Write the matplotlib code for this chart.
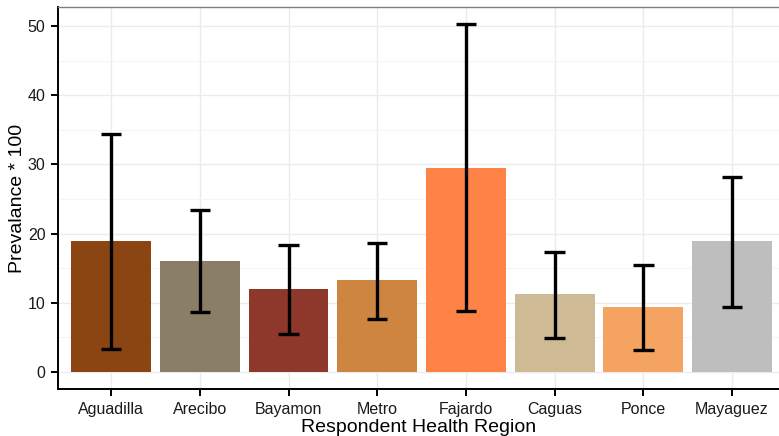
import numpy as np
import matplotlib
matplotlib.use("Agg")
import matplotlib.pyplot as plt
from matplotlib.ticker import MultipleLocator

plt.rcParams["font.family"] = ["Liberation Sans", "DejaVu Sans"]

# Data
regions = ["Aguadilla", "Arecibo", "Bayamon", "Metro", "Fajardo", "Caguas", "Ponce", "Mayaguez"]
prevalence = [18.9, 16.1, 12.0, 13.3, 29.5, 11.2, 9.4, 18.9]
ci_low = [3.3, 8.7, 5.5, 7.6, 8.8, 4.9, 3.2, 9.4]
ci_high = [34.4, 23.4, 18.3, 18.7, 50.3, 17.4, 15.4, 28.2]
colors = ["#8B4513", "#8B7E66", "#8E372B", "#CD853F", "#FF8247", "#CEBB96", "#F4A460", "#BEBEBE"]

fig = plt.figure(figsize=(7.79, 4.36), dpi=100)
ax = fig.add_axes([58 / 779, 1 - 389 / 436, 1 - 58 / 779, (389 - 7) / 436])

x = np.arange(len(regions))
ax.bar(x, prevalence, width=0.9, color=colors, zorder=2)

# Error bars with caps
cap = 0.115
for xi, lo, hi in zip(x, ci_low, ci_high):
    ax.plot([xi, xi], [lo, hi], color="black", lw=2.4, zorder=3, solid_capstyle="butt")
    ax.plot([xi - cap, xi + cap], [lo, lo], color="black", lw=2.4, zorder=3, solid_capstyle="butt")
    ax.plot([xi - cap, xi + cap], [hi, hi], color="black", lw=2.4, zorder=3, solid_capstyle="butt")

ax.set_xlim(-0.6, 7.53)
ax.set_ylim(-2.5, 52.8)
ax.set_xticks(x)
ax.set_xticklabels(regions)
ax.yaxis.set_major_locator(MultipleLocator(10))
ax.yaxis.set_minor_locator(MultipleLocator(5))

# Grid
ax.grid(True, which="major", color="#EBEBEB", lw=1.0, zorder=0)
ax.grid(True, which="minor", axis="y", color="#F5F5F5", lw=0.8, zorder=0)
ax.set_axisbelow(True)

for side in ["left", "bottom"]:
    ax.spines[side].set_color("black")
    ax.spines[side].set_linewidth(1.4)
ax.spines["top"].set_color("#7F7F7F")
ax.spines["top"].set_linewidth(1.0)
ax.spines["right"].set_visible(False)

ax.tick_params(axis="both", which="major", direction="out", length=5, width=1.4,
               color="black", labelsize=11.5, labelcolor="#1A1A1A", pad=4)
ax.tick_params(axis="y", which="minor", length=0)

ax.set_xlabel("Respondent Health Region", fontsize=14, labelpad=2)
ax.set_ylabel("Prevalance * 100", fontsize=14, labelpad=1)

fig.savefig("out.png", dpi=100)
